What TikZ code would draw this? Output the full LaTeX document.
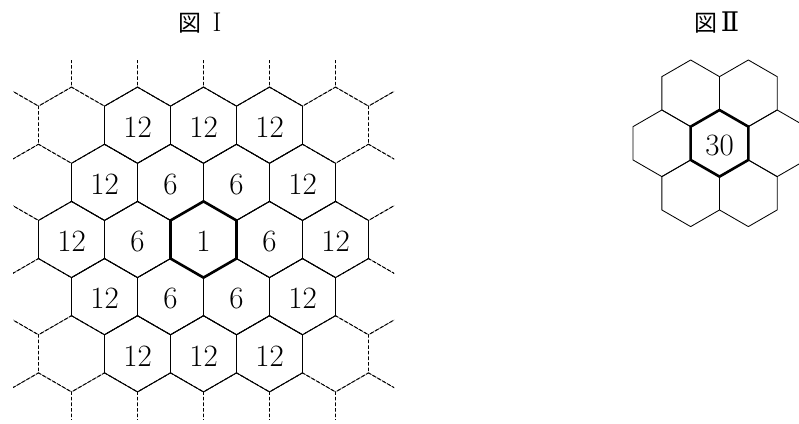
\documentclass[tikz,border=0pt]{standalone}
\usepackage{fontspec}
\newfontfamily\cjk{Noto Sans CJK JP}
\newfontfamily\romnum{DejaVu Serif}
\begin{document}
\begin{tikzpicture}[x=1pt,y=-1pt,
  thinhex/.style={line width=0.85pt,line join=round},
  dashhex/.style={line width=0.9pt,dash pattern=on 3pt off 2.6pt},
  thickhex/.style={line width=2.6pt,line join=miter},
  numlabel/.style={inner sep=0pt,font=\fontsize{31}{31}\selectfont},
  titlecjk/.style={inner sep=0pt,anchor=base,font=\fontsize{23}{23}\selectfont\cjk},
  titlerom/.style={inner sep=0pt,anchor=base,font=\fontsize{27}{27}\selectfont}]
\newcommand\hexshape[4]{%
  \draw[#1,shift={(#2,#3)}] (30:#4) -- (90:#4) -- (150:#4) -- (210:#4) -- (270:#4) -- (330:#4) -- cycle;}
\clip (0,0) rectangle (799,423);
\fill[white] (0,0) rectangle (799,423);
% ---------- Figure I ----------
\def\R{38.105}
\begin{scope}
  \clip (13,60) rectangle (394,419);
  \foreach \r in {-3,...,3}{
    \foreach \k in {-4,...,4}{
      \pgfmathsetmacro\cx{203.5+(\k+0.5*mod(abs(\r),2))*66}
      \pgfmathsetmacro\cy{239.5+\r*57.157}
      \hexshape{dashhex}{\cx}{\cy}{\R}
    }
  }
\end{scope}
\foreach \cx/\cy/\lab/\nm in {
  71.5/239.5/12/a1, 137.5/239.5/6/a2, 269.5/239.5/6/a4, 335.5/239.5/12/a5,
  104.5/182.343/12/b1, 170.5/182.343/6/b2, 236.5/182.343/6/b3, 302.5/182.343/12/b4,
  104.5/296.657/12/c1, 170.5/296.657/6/c2, 236.5/296.657/6/c3, 302.5/296.657/12/c4,
  137.5/125.186/12/d1, 203.5/125.186/12/d2, 269.5/125.186/12/d3,
  137.5/353.814/12/e1, 203.5/353.814/12/e2, 269.5/353.814/12/e3}{
  \hexshape{thinhex}{\cx}{\cy}{\R}
  \node[numlabel] (\nm) at (\cx,\cy+2) {\lab};
}
\hexshape{thickhex}{203.5}{239.5}{\R}
\node[numlabel] (a3) at (203.5,241.5) {1};
\node[titlecjk] (t1a) at (190,31) {図};
\node[titlerom] (t1b) at (217,31) {I};
% ---------- Figure II ----------
\def\Rb{33.3}
\foreach \dx/\dy in {57.68/0, -57.68/0, 28.84/50, -28.84/50, 28.84/-50, -28.84/-50}{
  \hexshape{thinhex}{719.5+\dx}{143.3+\dy}{\Rb}
}
\hexshape{thickhex}{719.5}{143.3}{\Rb}
\node[numlabel] (f2) at (719.5,145.3) {30};
\node[titlecjk] (t2a) at (706,31) {図};
\node[titlerom] (t2b) at (730,31) {\romnum Ⅱ};
\end{tikzpicture}
\end{document}
